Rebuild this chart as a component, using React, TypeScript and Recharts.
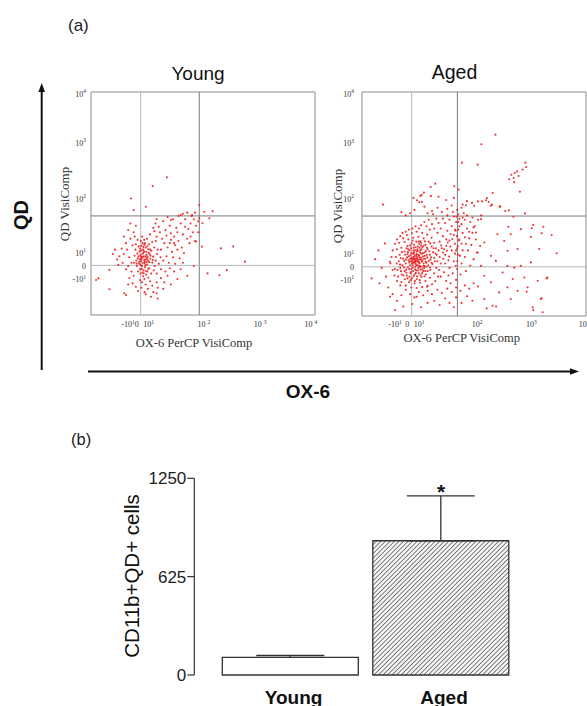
import React from 'react';
import {
  ScatterChart, Scatter, XAxis, YAxis, ReferenceLine, ReferenceArea,
  BarChart, Bar, Cell, ErrorBar,
} from 'recharts';

// ---------- (a) flow cytometry dot plots, channel units 0..1024 ----------
const youngPoints: [number, number][] = [
  [232,262],[241,270],[248,255],[236,281],[252,290],[228,248],[244,238],[259,266],[238,300],[226,275],
  [250,310],[262,248],[233,225],[247,219],[240,205],[256,232],[268,280],[222,292],[214,260],[230,318],
  [246,330],[261,302],[271,258],[219,235],[235,195],[252,185],[265,215],[280,240],[276,295],[207,250],
  [212,282],[224,210],[238,178],[258,200],[284,268],[291,225],[266,325],[243,345],[228,340],[218,315],
  [203,300],[199,272],[210,225],[226,190],[244,165],[262,172],[275,190],[287,205],[296,250],[302,280],
  [289,310],[280,335],[256,350],[234,360],[213,345],[205,325],[196,240],[215,200],[233,150],[250,140],
  [270,155],[300,190],[310,235],[318,265],[305,300],[296,340],[240,285],[254,276],[231,256],[246,244],
  [237,266],[243,252],[255,262],[229,268],[249,268],[235,240],[258,254],[227,230],[242,292],[253,242],
  [224,256],[239,312],[263,286],[220,244],[232,212],[251,202],[266,242],[272,272],[217,270],[244,322],
  [230,296],[258,316],[236,330],[248,228],[262,212],[225,305],[208,236],[282,252],[270,300],[241,192],
  [320,300],[335,330],[350,310],[365,345],[380,360],[300,360],[315,380],[340,390],[360,410],[390,400],
  [410,420],[430,440],[445,395],[420,370],[400,340],[385,320],[370,290],[345,270],[330,250],[355,240],
  [375,265],[395,300],[415,310],[440,350],[455,420],[470,440],[480,410],[465,380],[450,330],[425,285],
  [405,260],[385,235],[360,215],[340,200],[320,210],[325,350],[310,405],[295,420],[330,430],[350,450],
  [375,440],[400,455],[420,465],[440,470],[460,455],[475,470],[290,385],[270,370],[285,400],[300,440],
  [345,365],[365,375],[395,380],[430,405],[455,360],[475,340],[490,380],[490,430],[380,330],[360,330],
  [150,280],[165,300],[175,265],[185,240],[190,320],[180,350],[160,330],[140,305],[130,270],[170,225],
  [185,200],[195,180],[175,170],[160,210],[145,240],[125,230],[110,300],[150,360],[170,390],[195,380],
  [205,410],[180,420],[200,360],[120,255],[100,280],[190,145],[205,130],[170,140],[215,110],[230,125],
  [245,105],[260,120],[280,135],[300,150],[320,170],[335,150],[285,105],[305,125],[250,95],[225,160],
  [350,180],[380,200],[410,210],[440,180],[395,165],[330,120],[365,140],[470,225],[420,240],[300,100],
  [347,632],[282,592],[183,535],[195,482],[251,497],[411,459],[462,459],[495,505],[518,474],[556,477],
  [495,444],[510,421],[541,444],[23,161],[34,168],[84,207],[84,118],[152,100],[160,92],[274,84],
  [305,76],[533,191],[587,184],[594,306],[650,314],[704,245],[621,206],[507,314],[480,337],[366,436],
];

const agedPoints: [number, number][] = [
  [240,250],[252,262],[246,238],[260,245],[235,270],[228,255],[258,280],[270,258],[244,225],[232,232],
  [265,230],[278,272],[250,295],[238,290],[222,278],[216,245],[226,215],[248,208],[268,212],[282,240],
  [290,262],[286,290],[272,305],[255,318],[236,312],[218,300],[206,268],[200,240],[210,222],[222,195],
  [240,190],[260,195],[280,205],[295,225],[305,250],[310,280],[300,305],[290,325],[270,335],[248,340],
  [226,332],[208,320],[195,295],[188,262],[185,232],[195,205],[205,185],[228,172],[250,168],[272,178],
  [292,190],[312,210],[322,238],[330,265],[325,292],[318,318],[305,340],[282,355],[258,362],[234,358],
  [212,350],[195,338],[180,312],[172,280],[168,250],[175,220],[182,190],[195,168],[215,155],[240,150],
  [265,152],[290,160],[310,175],[330,195],[340,220],[345,250],[342,280],[338,310],[330,335],[318,358],
  [298,372],[275,380],[250,385],[228,378],[205,370],[188,355],[170,335],[160,305],[155,270],[158,240],
  [162,210],[254,250],[244,262],[262,268],[236,244],[248,276],[274,248],[230,262],[256,232],[266,290],
  [242,302],[220,262],[284,220],[210,292],[296,280],[202,212],[350,300],[355,270],[360,240],[352,210],
  [348,180],[335,160],[320,145],[300,138],[275,132],[250,128],[225,130],[200,140],[180,155],[165,180],
  [150,215],
  [238,258],[247,249],[255,257],[263,241],[231,247],[241,272],[250,283],[261,276],[270,266],[276,254],
  [268,224],[257,218],[243,214],[233,222],[219,232],[213,255],[214,273],[225,288],[236,298],[253,305],
  [266,300],[279,288],[287,275],[294,244],[286,228],[275,196],[252,181],[236,182],[217,180],[203,198],
  [192,222],[193,252],[197,280],[204,310],[220,322],[238,326],[262,329],[281,320],[297,312],[308,296],
  [316,268],[318,243],[311,222],[300,205],[286,182],[264,164],[242,160],[222,164],[208,172],[190,185],
  [178,205],[174,235],[177,265],[183,292],[266,342],[288,341],[312,332],[327,310],[336,286],[333,250],
  [243,244],[251,270],[237,263],[258,249],[246,256],[229,240],[264,258],[272,284],[239,280],[255,297],
  [233,286],[226,266],[261,225],[249,232],[221,250],[283,262],[292,296],[276,314],[259,340],[231,345],
  [211,305],[201,258],[224,201],[246,196],[268,186],[289,206],[303,232],[313,257],[299,268],[281,230],
  [245,314],[270,322],[224,310],[208,282],[216,214],[234,206],[256,208],[276,214],[291,248],[263,312],
  [370,290],[385,320],[400,345],[420,370],[440,395],[455,420],[470,440],[430,430],[410,410],[390,390],
  [370,365],[355,340],[365,310],[380,280],[395,255],[410,300],[425,330],[445,350],[460,380],[480,400],
  [495,430],[505,450],[480,460],[460,450],[440,465],[420,455],[400,440],[380,425],[360,400],[345,380],
  [330,400],[350,425],[370,445],[390,460],[415,475],[435,485],[455,495],[380,240],[400,220],[420,250],
  [440,280],[460,300],[475,330],[490,355],[505,380],[515,410],[470,270],[485,300],[500,325],[520,350],
  [455,240],[435,215],[415,195],[395,185],[375,200],[360,180],[385,160],[405,150],[430,165],[450,190],
  [475,205],[495,230],[510,260],[525,290],[540,320],[310,395],[295,410],[320,420],[340,445],[325,465],
  [305,440],[285,430],[270,415],[260,400],[245,410],[230,400],[215,395],[200,385],[185,380],[175,365],
  [160,350],[150,330],[140,300],[135,270],[130,240],[140,210],[148,185],[160,160],[175,140],[445,445],
  [465,470],[425,395],[405,375],[385,350],[435,310],[455,330],[470,360],[490,385],[510,405],[530,440],
  [545,460],
  [430,300],[438,320],[442,345],[434,365],[428,390],[445,410],[440,430],[432,455],[425,285],[448,275],
  [436,250],[429,230],[362,322],[376,305],[392,336],[404,318],[372,262],[388,298],[398,272],[413,352],
  [300,470],[320,480],[345,495],[365,475],[390,490],[410,505],[285,500],[262,520],[240,485],[220,470],
  [200,460],[180,475],[235,540],[460,510],[480,525],[420,540],[385,530],[350,545],
  [200,120],[220,100],[240,85],[260,110],[280,95],[300,115],[320,100],[345,120],[365,105],[390,125],
  [410,110],[430,130],[450,115],[470,140],[490,125],[510,150],[530,135],[180,95],[160,70],[140,100],
  [128,88],[151,27],[189,43],[250,88],[297,134],[330,70],[355,50],[380,80],[400,60],[430,85],
  [455,60],[480,90],[505,70],[570,35],[613,43],[420,40],[300,60],[270,40],[230,55],[44,172],
  [105,332],[128,248],[90,220],[110,180],[80,150],[120,130],[60,260],[75,300],
  [631,500],[692,454],[745,469],[783,416],[821,378],[867,370],[890,287],[772,361],[726,397],[680,374],
  [650,343],[619,374],[665,298],[711,306],[810,306],[772,245],[726,229],[696,221],[665,229],[643,199],
  [689,169],[742,176],[803,161],[848,176],[757,131],[711,115],[665,131],[627,108],[680,78],[818,78],
  [780,40],[826,17],[597,47],[559,78],[589,154],[559,184],[544,229],[529,290],[559,336],[589,275],
  [612,252],[521,382],[544,443],[589,504],[513,504],[753,111],[783,27],[821,81],[844,172],[722,568],
  [829,408],[776,401],[669,408],
  [610,829],[546,785],[457,701],[529,692],[747,701],[750,681],[709,661],[698,654],[683,646],[716,640],
  [693,631],[696,612],[673,625],[734,670],[96,509],[335,605],[314,590],[283,564],[315,549],[267,549],
  [251,529],[274,521],[422,593],[442,578],[597,562],[571,539],[567,529],[579,521],[549,524],[530,524],
  [594,509],[503,517],[475,506],[629,501],[671,483],[655,480],[273,553],
];

const youngXTicks = [169, 209, 263, 516, 773, 1005];
const youngXLabels = ['-10^1', '0', '10^1', '10 ^2', '10 ^3', '10 ^4'];
const youngYTicks = [165, 225, 285, 533, 790, 1016];
const agedXTicks = [151, 207, 261, 526, 774, 1015];
const agedXLabels = ['-10^1', '0', '10^1', '10^2', '10^3', '10^4'];
const agedYTicks = [165, 226, 283, 535, 790, 1015];
const yLabels = ['-10^1', '0', '10^1', '10^2', '10^3', '10^4'];

const youngVLines = [227, 495];
const youngHLines = [228, 455];
const agedVLines = [227, 436];
const agedHLines = [225, 457];

// ---------- (b) bar chart ----------
const groups = ['Young', 'Aged'];
const means = [112, 853];
const sems = [13, 285];
const barTicks = [0, 625, 1250];

const barData = groups.map((g, i) => ({ name: g, value: means[i], err: [0, sems[i]] }));

const SERIF = '"Liberation Serif", "Times New Roman", serif';
const SANS = '"Liberation Sans", Arial, sans-serif';

function supLabel(s: string) {
  const [b, e] = s.split('^');
  return (
    <>
      {b}
      {e ? <tspan dy={-3.5} fontSize={5.5}>{e}</tspan> : null}
    </>
  );
}

type FlowProps = {
  points: [number, number][];
  xTicks: number[]; xLabels: string[];
  yTicks: number[];
  vLines: number[]; hLines: number[];
  left: number; width: number; height: number;
  margin: { top: number; right: number; bottom: number; left: number };
  xLabelY: number; yLabelX: number;
};

function FlowPlot(p: FlowProps) {
  const data = p.points.map(([x, y]) => ({ x, y }));
  const XTick = (props: any) => {
    const i = p.xTicks.indexOf(props.payload.value);
    return (
      <text x={props.x} y={p.xLabelY} textAnchor="middle" fontFamily={SERIF} fontSize={8} fill="#333">
        {supLabel(p.xLabels[i] ?? '')}
      </text>
    );
  };
  const YTick = (props: any) => {
    const i = p.yTicks.indexOf(props.payload.value);
    return (
      <text x={p.yLabelX} y={props.y + 3} textAnchor="end" fontFamily={SERIF} fontSize={8} fill="#333">
        {supLabel(yLabels[i] ?? '')}
      </text>
    );
  };
  return (
    <div style={{ position: 'absolute', left: p.left, top: 0 }}>
      <ScatterChart width={p.width} height={p.height} margin={p.margin}>
        <XAxis type="number" dataKey="x" domain={[0, 1024]} ticks={p.xTicks} interval={0}
          axisLine={false} tickLine={false} height={20} tick={XTick} allowDataOverflow />
        <YAxis type="number" dataKey="y" domain={[0, 1024]} ticks={p.yTicks} interval={0}
          axisLine={false} tickLine={false} width={30} tick={YTick} allowDataOverflow />
        <ReferenceArea x1={0} x2={1024} y1={0} y2={1024} fill="none" fillOpacity={0} stroke="#8a8a8a" strokeWidth={1} />
        <ReferenceLine x={p.vLines[0]} stroke="#b8b8b8" strokeWidth={1} />
        <ReferenceLine x={p.vLines[1]} stroke="#7a7a7a" strokeWidth={1} />
        <ReferenceLine y={p.hLines[0]} stroke="#b8b8b8" strokeWidth={1} />
        <ReferenceLine y={p.hLines[1]} stroke="#7a7a7a" strokeWidth={1} />
        <Scatter data={data} isAnimationActive={false}
          shape={(s: any) => <circle cx={s.cx} cy={s.cy} r={1.05} fill="#f01c1c" fillOpacity={0.9} />} />
      </ScatterChart>
    </div>
  );
}

const BarXTick = (props: any) => (
  <text x={props.x + 3} y={243.6} textAnchor="middle" fontFamily={SANS} fontWeight="bold" fontSize={19} fill="#111">
    {props.payload.value}
  </text>
);

export default function App() {
  return (
    <div style={{ position: 'absolute', left: 0, top: 0, width: 587, height: 706, overflow: 'hidden', background: '#fff' }}>
      <svg width={587} height={706} style={{ position: 'absolute', left: 0, top: 0 }}>
        <defs>
          <pattern id="hatch" patternUnits="userSpaceOnUse" width={3.2} height={3.2} patternTransform="rotate(45)">
            <rect width={3.2} height={3.2} fill="#f4f4f4" />
            <line x1={0} y1={0} x2={0} y2={3.2} stroke="#444" strokeWidth={1.3} />
          </pattern>
        </defs>
        <text x={68} y={31} fontFamily={SANS} fontSize={17} fill="#222">(a)</text>
        <text x={198} y={80} textAnchor="middle" fontFamily={SANS} fontSize={19} fill="#111">Young</text>
        <text x={454.5} y={79} textAnchor="middle" fontFamily={SANS} fontSize={19.5} fill="#111">Aged</text>
        <text x={64} y={204} transform="rotate(-90 64 204)" textAnchor="middle" dominantBaseline="central"
          fontFamily={SERIF} fontSize={13} fill="#333">QD VisiComp</text>
        <text x={337.5} y={206} transform="rotate(-90 337.5 206)" textAnchor="middle" dominantBaseline="central"
          fontFamily={SERIF} fontSize={13} fill="#333">QD VisiComp</text>
        <text x={194} y={347} textAnchor="middle" fontFamily={SERIF} fontSize={12.5} fill="#333">OX-6 PerCP VisiComp</text>
        <text x={461.7} y={342} textAnchor="middle" fontFamily={SERIF} fontSize={12.5} fill="#333">OX-6 PerCP VisiComp</text>
        <line x1={41.7} y1={370} x2={41.7} y2={90} stroke="#111" strokeWidth={2} />
        <polygon points="41.7,83 38.4,92 45,92" fill="#111" />
        <line x1={88} y1={371.5} x2={572} y2={371.5} stroke="#111" strokeWidth={2} />
        <polygon points="579,371.5 570,368.2 570,374.8" fill="#111" />
        <text x={20.5} y={215} transform="rotate(-90 20.5 215)" textAnchor="middle" dominantBaseline="central"
          fontFamily={SANS} fontWeight="bold" fontSize={20} fill="#111">QD</text>
        <text x={308} y={398} textAnchor="middle" fontFamily={SANS} fontWeight="bold" fontSize={19} fill="#111">OX-6</text>
        <text x={71} y={445} fontFamily={SANS} fontSize={16.5} fill="#222">(b)</text>
        <text x={131} y={576} transform="rotate(-90 131 576)" textAnchor="middle" dominantBaseline="central"
          fontFamily={SANS} fontSize={20.5} fill="#111">CD11b+QD+ cells</text>
        <text x={441} y={499} textAnchor="middle" fontFamily={SANS} fontWeight="bold" fontSize={21} fill="#111">*</text>
      </svg>

      <FlowPlot points={youngPoints} xTicks={youngXTicks} xLabels={youngXLabels} yTicks={youngYTicks}
        vLines={youngVLines} hLines={youngHLines} left={0} width={330} height={340}
        margin={{ top: 92, right: 15, bottom: 5, left: 61 }} xLabelY={327} yLabelX={86} />
      <FlowPlot points={agedPoints} xTicks={agedXTicks} xLabels={agedXLabels} yTicks={agedYTicks}
        vLines={agedVLines} hLines={agedHLines} left={300} width={287} height={340}
        margin={{ top: 92, right: 1, bottom: 4, left: 32 }} xLabelY={327} yLabelX={54} />

      <div style={{ position: 'absolute', left: 0, top: 460 }}>
        <BarChart width={587} height={246} data={barData} barSize={136}
          margin={{ top: 18.3, right: 70.7, bottom: 0, left: 134.3 }}>
          <XAxis dataKey="name" axisLine={false} tickLine={false} height={31} padding={{ left: 21, right: 0 }}
            tick={BarXTick} interval={0} />
          <YAxis domain={[0, 1250]} ticks={barTicks} interval={0} width={60}
            axisLine={{ stroke: '#333', strokeWidth: 1.2 }} tickLine={{ stroke: '#333', strokeWidth: 1.2 }}
            tickSize={7} tickMargin={1}
            tick={{ fontSize: 17, fill: '#222', fontFamily: SANS }} />
          <Bar dataKey="value" stroke="#333" strokeWidth={1.3} isAnimationActive={false}>
            {barData.map((d, i) => (
              <Cell key={d.name} fill={i === 0 ? '#ffffff' : 'url(#hatch)'} />
            ))}
            <ErrorBar dataKey="err" width={34} stroke="#333" strokeWidth={1.3} direction="y" isAnimationActive={false} />
          </Bar>
        </BarChart>
      </div>
    </div>
  );
}
